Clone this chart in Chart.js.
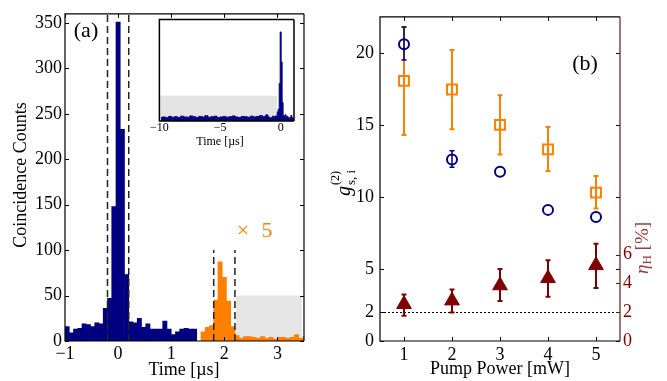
<!DOCTYPE html>
<html>
<head>
<meta charset="utf-8">
<script src="https://cdn.jsdelivr.net/npm/chart.js@4.4.1/dist/chart.umd.min.js"></script>
<style>
  body { margin: 0; background: #fff; }
  #page { position: relative; width: 667px; height: 381px; overflow: hidden; background: #fff; }
  canvas { position: absolute; }
</style>
</head>
<body>
<div id="page">
  <canvas id="histChart" width="330" height="381" style="left:0;top:0"></canvas>
  <canvas id="insetChart" width="155" height="140" style="left:150px;top:12px"></canvas>
  <canvas id="powerChart" width="337" height="381" style="left:330px;top:0"></canvas>
</div>
<script>
// ---- (a) coincidence histogram ----
const binStart = -1.0;      // µs, left edge of first bin
const binWidth = 0.08;      // µs
const blueCounts = [16, 9, 13, 14, 19, 18, 16, 20, 19, 36, 47, 148, 351, 233, 73,
  21, 20, 25, 15, 19, 13, 13, 13, 22, 13, 7, 10, 13, 14, 13, 13];
// retrieved photons, counts shown x5
const orangeFirstBin = 32;
const orangeCounts = [10, 15, 17, 45, 87, 70, 44, 16, 6, 3, 5, 5, 4, 3, 5, 3, 4, 2, 4, 4,
  3, 4, 7, 3, 5];
const writeWindow = [-0.2, 0.2];
const readWindow = [1.8, 2.2];
const readWindowTop = 100;
const bgWindow = [2.22, 3.46];
const bgLevel = 50;
const timeTicks = [-1, 0, 1, 2, 3];
const countTicks = [0, 50, 100, 150, 200, 250, 300, 350];

// inset: long time range
const insetBgStart = -10;
const insetBgWidth = 0.25;
const insetBgCounts = [14, 16, 13, 18, 15, 17, 14, 19, 16, 15, 20, 17, 14, 18, 16, 21, 15, 17,
  19, 14, 16, 18, 15, 17, 20, 16, 14, 18, 17, 15, 19, 16, 18, 21, 17, 24];
const insetTicks = [-10, -5, 0];
const insetShade = [-10, -0.3];
const insetShadeLevel = 100;

// ---- (b) pump power dependence ----
const pumpPower = [1, 2, 3, 4, 5];
const g2Circle = [20.6, 12.6, 11.75, 9.1, 8.6];
const g2CircleLo = [19.5, 12.05, 11.75, 9.1, 8.6];
const g2CircleHi = [21.8, 13.2, 11.75, 9.1, 8.6];
const g2Square = [18.05, 17.45, 15.0, 13.3, 10.3];
const g2SquareLo = [14.3, 14.7, 12.95, 11.8, 9.2];
const g2SquareHi = [21.8, 20.2, 17.05, 14.85, 11.45];
const etaH = [2.55, 2.8, 3.85, 4.35, 5.25];
const etaHLo = [1.75, 1.98, 2.77, 3.07, 3.68];
const etaHHi = [3.23, 3.57, 5.0, 5.6, 6.75];
const classicalBound = 2;
const powerTicks = [1, 2, 3, 4, 5];
const gTicks = [0, 2, 5, 10, 15, 20];
const etaTicks = [0, 2, 4, 6];

const SERIF = "'Liberation Serif', 'Times New Roman', serif";
const NAVY = '#000080';
const ORANGE = '#ff8000';
const MAROON = '#800000';

Chart.defaults.font.family = SERIF;
Chart.defaults.font.size = 18;
Chart.defaults.color = '#000';
Chart.defaults.animation = false;
Chart.defaults.plugins.legend.display = false;
Chart.defaults.plugins.tooltip.enabled = false;

const minus = v => String(v).replace('-', '\u2212');
const fixTicks = list => s => { s.ticks = list.map(v => ({ value: v })); };

// box around the plot area with inward ticks on every side
const boxPlugin = {
  id: 'box',
  afterDraw(chart, args, opts) {
    const a = chart.chartArea, ctx = chart.ctx;
    const tl = opts.tickLen || 0;
    ctx.save();
    ctx.lineWidth = 1;
    Object.values(chart.scales).forEach(s => {
      if (!s.options.display || !tl) return;
      ctx.strokeStyle = s.options.ticks.color || '#000';
      ctx.beginPath();
      s.ticks.forEach(t => {
        const p = Math.round(s.getPixelForValue(t.value)) + 0.5;
        if (s.isHorizontal()) {
          ctx.moveTo(p, a.bottom); ctx.lineTo(p, a.bottom - tl);
          ctx.moveTo(p, a.top); ctx.lineTo(p, a.top + tl);
        } else {
          if (s.options.position !== 'right') { ctx.moveTo(a.left, p); ctx.lineTo(a.left + tl, p); }
          ctx.moveTo(a.right, p); ctx.lineTo(a.right - tl, p);
        }
      });
      ctx.stroke();
    });
    ctx.lineWidth = opts.lineWidth || 1.2;
    ctx.strokeStyle = '#000';
    ctx.beginPath();
    ctx.moveTo(a.right, a.top); ctx.lineTo(a.left, a.top);
    ctx.lineTo(a.left, a.bottom); ctx.lineTo(a.right, a.bottom);
    ctx.stroke();
    ctx.strokeStyle = opts.rightColor || '#000';
    ctx.beginPath();
    ctx.moveTo(a.right, a.top); ctx.lineTo(a.right, a.bottom);
    ctx.stroke();
    ctx.restore();
  }
};
Chart.register(boxPlugin);

function text(ctx, str, x, y, font, color, align, rot) {
  ctx.save();
  ctx.translate(x, y);
  if (rot) ctx.rotate(rot);
  ctx.font = font;
  ctx.fillStyle = color || '#000';
  ctx.textAlign = align || 'center';
  ctx.textBaseline = 'middle';
  ctx.fillText(str, 0, 0);
  ctx.restore();
}

// ---- histogram ----
const blueBins = blueCounts.map((c, i) => ({ x: binStart + (i + 0.5) * binWidth, y: c }));
const orangeBins = orangeCounts.map((c, i) => ({ x: binStart + (orangeFirstBin + i + 0.5) * binWidth, y: c }));

const histDecor = {
  id: 'histDecor',
  beforeDatasetsDraw(chart) {
    const { ctx, scales: { x, y } } = chart;
    ctx.save();
    ctx.fillStyle = '#e5e5e5';
    const x0 = x.getPixelForValue(bgWindow[0]), x1 = x.getPixelForValue(bgWindow[1]);
    const y0 = y.getPixelForValue(0), y1 = y.getPixelForValue(bgLevel);
    ctx.fillRect(x0, y1, x1 - x0, y0 - y1);
    ctx.restore();
  },
  afterDatasetsDraw(chart) {
    const { ctx, chartArea: a, scales: { x, y } } = chart;
    ctx.save();
    ctx.strokeStyle = '#222';
    ctx.lineWidth = 1.5;
    ctx.setLineDash([7, 4]);
    ctx.beginPath();
    writeWindow.forEach(t => {
      const p = x.getPixelForValue(t);
      ctx.moveTo(p, a.bottom); ctx.lineTo(p, a.top);
    });
    readWindow.forEach(t => {
      const p = x.getPixelForValue(t);
      ctx.moveTo(p, a.bottom); ctx.lineTo(p, y.getPixelForValue(readWindowTop));
    });
    ctx.stroke();
    ctx.restore();
    text(ctx, '(a)', 86, 31, '22px ' + SERIF);
    text(ctx, '\u00d7', 243, 231, '22px ' + SERIF, ORANGE);
    text(ctx, '5', 267, 231, '22px ' + SERIF, ORANGE);
    text(ctx, 'Coincidence Counts', 21, 175, '18px ' + SERIF, '#000', 'center', -Math.PI / 2);
    text(ctx, 'Time [\u00b5s]', 184, 370, '18px ' + SERIF);
  }
};

new Chart(document.getElementById('histChart'), {
  type: 'bar',
  data: {
    datasets: [
      { data: blueBins, backgroundColor: NAVY, borderWidth: 0, grouped: false, barPercentage: 1, categoryPercentage: 1 },
      { data: orangeBins, backgroundColor: ORANGE, borderWidth: 0, grouped: false, barPercentage: 1, categoryPercentage: 1 }
    ]
  },
  options: {
    responsive: false,
    devicePixelRatio: 1,
    layout: { padding: { left: 0, right: 26, top: 10, bottom: 0 } },
    scales: {
      x: {
        type: 'linear', min: -1, max: 3.5, offset: false,
        grid: { display: false, drawTicks: false }, border: { display: false },
        afterBuildTicks: fixTicks(timeTicks), afterFit: s => { s.height = 40; },
        ticks: { padding: 2, maxRotation: 0, autoSkip: false, callback: v => minus(v) }
      },
      y: {
        type: 'linear', min: 0, max: 360,
        grid: { display: false, drawTicks: false }, border: { display: false },
        afterBuildTicks: fixTicks(countTicks), afterFit: s => { s.width = 65; },
        ticks: { padding: 3, autoSkip: false }
      }
    },
    plugins: { box: { tickLen: 4 } }
  },
  plugins: [histDecor]
});

// ---- inset ----
const insetData = insetBgCounts.map((c, i) => ({ x: insetBgStart + (i + 0.5) * insetBgWidth, y: c }))
  .concat(blueBins);

const insetDecor = {
  id: 'insetDecor',
  beforeDatasetsDraw(chart) {
    const { ctx, chartArea: a, scales: { x, y } } = chart;
    ctx.save();
    ctx.fillStyle = '#fff';
    ctx.fillRect(a.left, a.top, a.width, a.height);
    ctx.fillStyle = '#e3e3e3';
    const x0 = x.getPixelForValue(insetShade[0]), x1 = x.getPixelForValue(insetShade[1]);
    const y0 = y.getPixelForValue(0), y1 = y.getPixelForValue(insetShadeLevel);
    ctx.fillRect(x0, y1, x1 - x0, y0 - y1);
    ctx.restore();
  },
  afterDraw(chart) {
    text(chart.ctx, 'Time [\u00b5s]', 70, 130, '12px ' + SERIF);
  }
};

new Chart(document.getElementById('insetChart'), {
  type: 'line',
  data: {
    datasets: [{
      data: insetData, stepped: 'middle', fill: 'origin',
      borderColor: NAVY, backgroundColor: NAVY, borderWidth: 1, pointRadius: 0
    }]
  },
  options: {
    responsive: false,
    devicePixelRatio: 1,
    layout: { padding: { left: 7, right: 11, top: 7.5, bottom: 0 } },
    scales: {
      x: {
        type: 'linear', min: -10, max: 1.1,
        grid: { display: false, drawTicks: false }, border: { display: false },
        afterBuildTicks: fixTicks(insetTicks), afterFit: s => { s.height = 31; },
        ticks: { padding: 0, maxRotation: 0, autoSkip: false, font: { size: 12 }, callback: v => minus(v) }
      },
      y: { type: 'linear', min: 0, max: 400, display: false }
    },
    plugins: { box: { tickLen: 0, lineWidth: 1.5 } }
  },
  plugins: [insetDecor]
});

// ---- pump power ----
const pts = (ys) => pumpPower.map((p, i) => ({ x: p, y: ys[i] }));

const errorBars = {
  id: 'errorBars',
  beforeDatasetsDraw(chart) {
    const ctx = chart.ctx;
    chart.data.datasets.forEach((ds, i) => {
      const meta = chart.getDatasetMeta(i);
      const ys = chart.scales[ds.yAxisID];
      ctx.save();
      ctx.strokeStyle = ds.borderColor;
      ctx.lineWidth = ds.errWidth;
      ctx.beginPath();
      meta.data.forEach((pt, j) => {
        if (ds.errLo[j] === ds.errHi[j]) return;
        const lo = ys.getPixelForValue(ds.errLo[j]);
        const hi = ys.getPixelForValue(ds.errHi[j]);
        ctx.moveTo(pt.x, lo); ctx.lineTo(pt.x, hi);
        ctx.moveTo(pt.x - 2.5, lo); ctx.lineTo(pt.x + 2.5, lo);
        ctx.moveTo(pt.x - 2.5, hi); ctx.lineTo(pt.x + 2.5, hi);
      });
      ctx.stroke();
      ctx.restore();
    });
  },
  beforeDraw(chart) {
    const { ctx, chartArea: a, scales: { y } } = chart;
    ctx.save();
    ctx.strokeStyle = '#000';
    ctx.lineWidth = 1;
    ctx.setLineDash([2, 2]);
    const p = Math.round(y.getPixelForValue(classicalBound)) + 0.5;
    ctx.beginPath();
    ctx.moveTo(a.left, p); ctx.lineTo(a.right, p);
    ctx.stroke();
    ctx.restore();
  },
  afterDraw(chart) {
    const ctx = chart.ctx;
    text(ctx, '(b)', 255, 64, '22px ' + SERIF);
    text(ctx, 'Pump Power [mW]', 170, 369, '18px ' + SERIF);
    // g^(2)_{s,i}
    ctx.save();
    ctx.translate(20, 196);
    ctx.rotate(-Math.PI / 2);
    ctx.textBaseline = 'alphabetic';
    ctx.fillStyle = '#000';
    ctx.font = 'italic 20px ' + SERIF;
    ctx.fillText('g', 0, 0);
    const gw = ctx.measureText('g').width;
    ctx.font = '12px ' + SERIF;
    ctx.fillText('(2)', gw + 1, -11);
    ctx.font = '13px ' + SERIF;
    ctx.fillText('s, i', gw + 1, 5);
    ctx.restore();
    // eta_H [%]
    ctx.save();
    ctx.translate(313, 274);
    ctx.rotate(-Math.PI / 2);
    ctx.textBaseline = 'middle';
    ctx.fillStyle = '#a03c3c';
    ctx.font = 'italic 19px ' + SERIF;
    ctx.fillText('\u03b7', 0, 0);
    let w = ctx.measureText('\u03b7').width;
    ctx.font = '13px ' + SERIF;
    ctx.fillText('H', w, 5);
    w += ctx.measureText('H').width;
    ctx.font = '19px ' + SERIF;
    ctx.fillText(' [%]', w, 0);
    ctx.restore();
  }
};

new Chart(document.getElementById('powerChart'), {
  type: 'scatter',
  data: {
    datasets: [
      {
        data: pts(g2Square), yAxisID: 'y', errLo: g2SquareLo, errHi: g2SquareHi, errWidth: 2,
        pointStyle: 'rect', pointRadius: 7, borderWidth: 2, borderColor: ORANGE, backgroundColor: 'rgba(0,0,0,0)'
      },
      {
        data: pts(g2Circle), yAxisID: 'y', errLo: g2CircleLo, errHi: g2CircleHi, errWidth: 1.5,
        pointStyle: 'circle', pointRadius: 5, borderWidth: 2, borderColor: NAVY, backgroundColor: 'rgba(0,0,0,0)'
      },
      {
        data: pts(etaH), yAxisID: 'y2', errLo: etaHLo, errHi: etaHHi, errWidth: 2,
        pointStyle: 'triangle', pointRadius: 8.5, borderWidth: 1, borderColor: MAROON, backgroundColor: MAROON
      }
    ]
  },
  options: {
    responsive: false,
    devicePixelRatio: 1,
    layout: { padding: { left: 0, right: 0, top: 10, bottom: 0 } },
    scales: {
      x: {
        type: 'linear', min: 0.5, max: 5.5,
        grid: { display: false, drawTicks: false }, border: { display: false },
        afterBuildTicks: fixTicks(powerTicks), afterFit: s => { s.height = 40; },
        ticks: { padding: 3, maxRotation: 0, autoSkip: false }
      },
      y: {
        type: 'linear', min: 0, max: 22.5,
        grid: { display: false, drawTicks: false }, border: { display: false },
        afterBuildTicks: fixTicks(gTicks), afterFit: s => { s.width = 50; },
        ticks: { padding: 6, autoSkip: false }
      },
      y2: {
        type: 'linear', position: 'right', min: 0, max: 22.5,
        grid: { display: false, drawTicks: false }, border: { display: false },
        afterBuildTicks: fixTicks(etaTicks), afterFit: s => { s.width = 47; },
        ticks: { padding: 3, autoSkip: false, color: MAROON }
      }
    },
    plugins: { box: { tickLen: 4, rightColor: '#6b1515' } }
  },
  plugins: [errorBars]
});
</script>
</body>
</html>
